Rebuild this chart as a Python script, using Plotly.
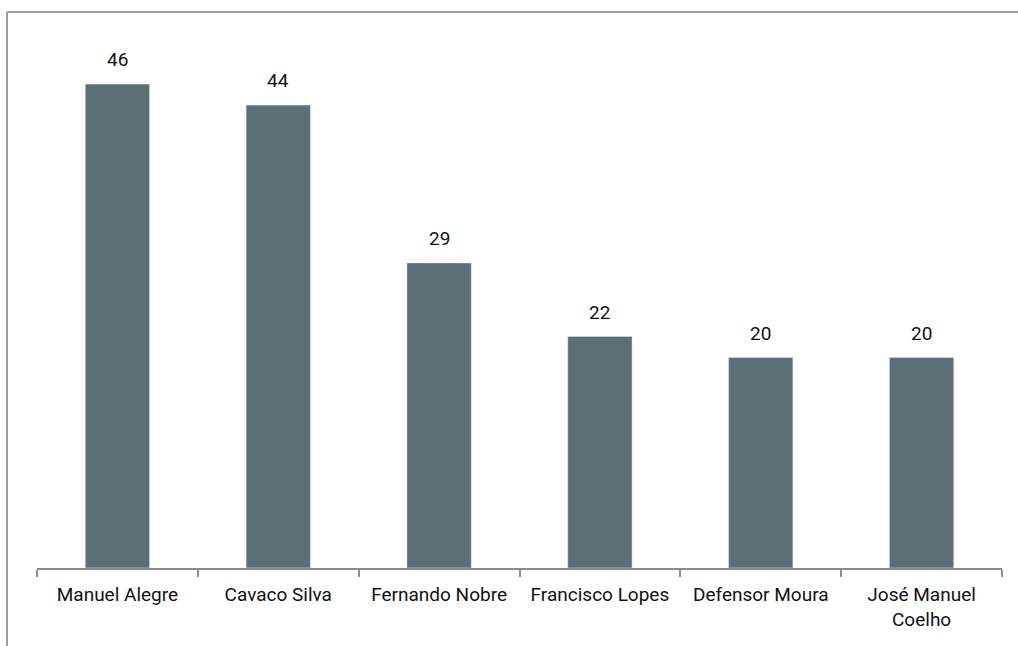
import plotly.graph_objects as go

candidates = ["Manuel Alegre", "Cavaco Silva", "Fernando Nobre", "Francisco Lopes",
              "Defensor Moura", "José Manuel<br>Coelho"]
values = [46, 44, 29, 22, 20, 20]

BAR_COLOR = "#5b6f74"
FONT = "Roboto"

fig = go.Figure(go.Bar(
    x=candidates, y=values, marker_color=BAR_COLOR, width=0.4,
    hoverinfo="skip",
))

for c, v in zip(candidates, values):
    fig.add_annotation(x=c, y=v, text=str(v), showarrow=False,
                       yanchor="bottom", yshift=11,
                       font=dict(family=FONT, size=19, color="#111"))

W, H = 1018, 646
ml, mr, mt, mb = 37, 16, 42, 78
pw, ph = W - ml - mr, H - mt - mb
# outer frame (left and top edges visible)
fx = (7 - ml) / pw
fy = (H - mb - 12) / ph
fig.add_shape(type="line", xref="paper", yref="paper", x0=fx, x1=fx, y0=fy, y1=-0.3,
              line=dict(color="#a0a0a0", width=2))
fig.add_shape(type="line", xref="paper", yref="paper", x0=fx, x1=1.1, y0=fy, y1=fy,
              line=dict(color="#a0a0a0", width=2))

fig.update_layout(
    width=W, height=H, margin=dict(l=ml, r=mr, t=mt, b=mb),
    plot_bgcolor="white", paper_bgcolor="white", showlegend=False,
    font=dict(family=FONT, size=19, color="#111"),
    xaxis=dict(showline=True, linecolor="#8c8c8c", linewidth=2, ticks="outside",
               tickson="boundaries", ticklen=7, tickcolor="#8c8c8c", tickwidth=2,
               ticklabelstandoff=8,
               showgrid=False, tickfont=dict(family=FONT, size=19, color="#111")),
    yaxis=dict(range=[0, 50], visible=False, showgrid=False),
)

fig.write_html("out.html")
